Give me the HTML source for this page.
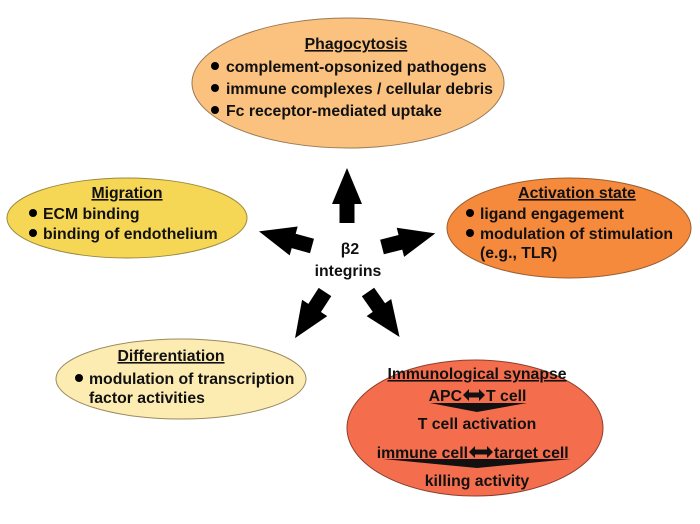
<!DOCTYPE html>
<html><head><meta charset="utf-8"><style>
html,body{margin:0;padding:0;background:#fff;}
svg{display:block;}
text{font-family:"Liberation Sans",Arial,sans-serif;font-weight:bold;font-size:15.8px;fill:#111;}
.t{text-decoration:underline;}
</style></head><body>
<svg width="700" height="524" viewBox="0 0 700 524" xmlns="http://www.w3.org/2000/svg">
<defs>
<polygon id="arr" points="0,-7.5 19,-7.5 19,-15 55,0 19,15 19,7.5 0,7.5" fill="#000"/>
</defs>
<!-- ellipses -->
<ellipse cx="348" cy="83" rx="156" ry="65" fill="#FAC17F" stroke="#9a7a55" stroke-width="1"/>
<ellipse cx="127" cy="218" rx="120" ry="40" fill="#F6D655" stroke="#9a8a40" stroke-width="1"/>
<ellipse cx="569" cy="228" rx="122" ry="50" fill="#F5893C" stroke="#9a6030" stroke-width="1"/>
<ellipse cx="181" cy="379" rx="125" ry="40" fill="#FCECB2" stroke="#9a8a60" stroke-width="1"/>
<ellipse cx="475" cy="428" rx="128" ry="68" fill="#F46E4E" stroke="#8a4030" stroke-width="1"/>

<!-- arrows -->
<use href="#arr" transform="translate(347,223) rotate(-90)"/>
<use href="#arr" transform="translate(312,246) rotate(-164.6)"/>
<use href="#arr" transform="translate(382,247) rotate(-14.3)"/>
<use href="#arr" transform="translate(325,292) rotate(123)"/>
<use href="#arr" transform="translate(368,292) rotate(55)"/>

<text x="350" y="254" text-anchor="middle">β2</text>
<text x="348" y="276" text-anchor="middle">integrins</text>

<!-- Phagocytosis -->
<text class="t" x="356" y="49" text-anchor="middle">Phagocytosis</text>
<circle cx="215" cy="66" r="4"/>
<text x="226" y="72">complement-opsonized pathogens</text>
<circle cx="215" cy="88" r="4"/>
<text x="226" y="94">immune complexes / cellular debris</text>
<circle cx="215" cy="110" r="4"/>
<text x="226" y="116">Fc receptor-mediated uptake</text>

<!-- Migration -->
<text class="t" x="127" y="198" text-anchor="middle">Migration</text>
<circle cx="33" cy="213" r="4"/>
<text x="43" y="219">ECM binding</text>
<circle cx="33" cy="233" r="4"/>
<text x="43" y="239">binding of endothelium</text>

<!-- Activation -->
<text class="t" x="577" y="198" text-anchor="middle">Activation state</text>
<circle cx="470" cy="213" r="4"/>
<text x="480" y="219">ligand engagement</text>
<circle cx="470" cy="233" r="4"/>
<text x="480" y="239">modulation of stimulation</text>
<text x="480" y="258">(e.g., TLR)</text>

<!-- Differentiation -->
<text class="t" x="171" y="361" text-anchor="middle">Differentiation</text>
<circle cx="79" cy="378" r="4"/>
<text x="89" y="384">modulation of transcription</text>
<text x="89" y="403">factor activities</text>

<!-- Synapse -->
<text class="t" x="477" y="379" text-anchor="middle">Immunological synapse</text>
<text x="462" y="401" text-anchor="end">APC</text>
<polygon points="463,395 469,389 469,392.5 479,392.5 479,389 485,395 479,401 479,397.5 469,397.5 469,401" fill="#111"/>
<text x="486" y="401">T cell</text>
<polygon points="430,403 527,403 477,412" fill="#111"/>
<text x="477" y="429" text-anchor="middle">T cell activation</text>
<text x="468" y="458" text-anchor="end">immune cell</text>
<polygon points="469,452 475,446 475,449.5 487,449.5 487,446 493,452 487,458 487,454.5 475,454.5 475,458" fill="#111"/>
<text x="494" y="458">target cell</text>
<polygon points="383,459 571,459 477,468" fill="#111"/>
<text x="477" y="486" text-anchor="middle">killing activity</text>
</svg>
</body></html>
